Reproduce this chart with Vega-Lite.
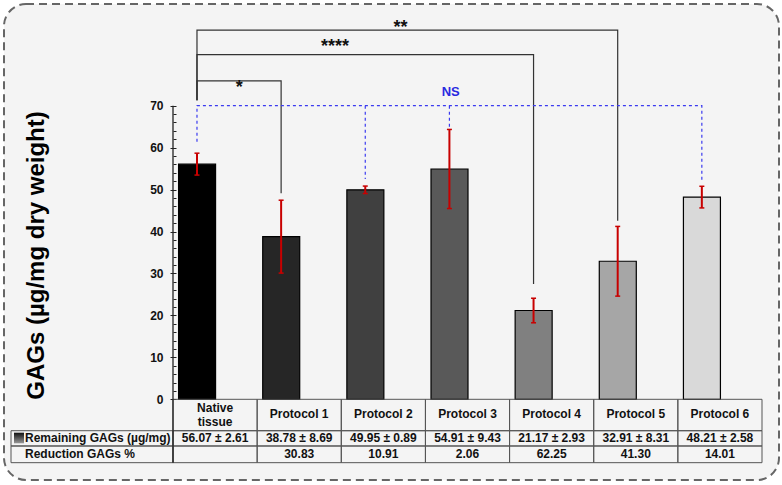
{
  "$schema": "https://vega.github.io/schema/vega-lite/v6.json",
  "width": 775,
  "height": 476,
  "autosize": {"type": "none"},
  "padding": {"left": 4, "top": 4, "right": 3, "bottom": 5},
  "background": "white",
  "config": {
    "view": {"fill": "#f4f4f4", "stroke": "#666666", "strokeWidth": 2, "strokeDash": [8, 5], "cornerRadius": 22},
    "text": {"font": "Liberation Sans", "fontWeight": "bold", "fontSize": 12, "color": "#111111"}
  },
  "datasets": {
    "groups": [
      {"group": "Native tissue", "label": "Native\ntissue", "mean": 56.07, "lo": 53.46, "hi": 58.68, "remaining": "56.07 ± 2.61", "reduction": ""},
      {"group": "Protocol 1", "label": "Protocol 1", "mean": 38.78, "lo": 30.09, "hi": 47.47, "remaining": "38.78 ± 8.69", "reduction": "30.83"},
      {"group": "Protocol 2", "label": "Protocol 2", "mean": 49.95, "lo": 49.06, "hi": 50.84, "remaining": "49.95 ± 0.89", "reduction": "10.91"},
      {"group": "Protocol 3", "label": "Protocol 3", "mean": 54.91, "lo": 45.48, "hi": 64.34, "remaining": "54.91 ± 9.43", "reduction": "2.06"},
      {"group": "Protocol 4", "label": "Protocol 4", "mean": 21.17, "lo": 18.24, "hi": 24.10, "remaining": "21.17 ± 2.93", "reduction": "62.25"},
      {"group": "Protocol 5", "label": "Protocol 5", "mean": 32.91, "lo": 24.60, "hi": 41.22, "remaining": "32.91 ± 8.31", "reduction": "41.30"},
      {"group": "Protocol 6", "label": "Protocol 6", "mean": 48.21, "lo": 45.63, "hi": 50.79, "remaining": "48.21 ± 2.58", "reduction": "14.01"}
    ],
    "brackets": [
      {"bracket": "p1", "group": "Native tissue", "y": 71.3, "k": 1},
      {"bracket": "p1", "group": "Native tissue", "y": 75.9, "k": 2},
      {"bracket": "p1", "group": "Protocol 1", "y": 75.9, "k": 3},
      {"bracket": "p1", "group": "Protocol 1", "y": 49.1, "k": 4},
      {"bracket": "p4", "group": "Native tissue", "y": 71.3, "k": 1},
      {"bracket": "p4", "group": "Native tissue", "y": 82.2, "k": 2},
      {"bracket": "p4", "group": "Protocol 4", "y": 82.2, "k": 3},
      {"bracket": "p4", "group": "Protocol 4", "y": 27.5, "k": 4},
      {"bracket": "p5", "group": "Native tissue", "y": 71.3, "k": 1},
      {"bracket": "p5", "group": "Native tissue", "y": 88.0, "k": 2},
      {"bracket": "p5", "group": "Protocol 5", "y": 88.0, "k": 3},
      {"bracket": "p5", "group": "Protocol 5", "y": 42.6, "k": 4}
    ],
    "ns": [
      {"path": "a", "group": "Native tissue", "y": 61.4, "k": 1},
      {"path": "a", "group": "Native tissue", "y": 70, "k": 2},
      {"path": "a", "group": "Protocol 6", "y": 70, "k": 3},
      {"path": "a", "group": "Protocol 6", "y": 51.9, "k": 4},
      {"path": "b", "group": "Protocol 2", "y": 70, "k": 1},
      {"path": "b", "group": "Protocol 2", "y": 52.5, "k": 2},
      {"path": "c", "group": "Protocol 3", "y": 70, "k": 1},
      {"path": "c", "group": "Protocol 3", "y": 64.3, "k": 2}
    ]
  },
  "resolve": {"axis": {"y": "independent"}},
  "layer": [
    {
      "data": {"name": "groups"},
      "mark": {"type": "bar", "width": 37, "xOffset": -18, "stroke": "#000000", "strokeWidth": 1.2},
      "encoding": {
        "x": {
          "field": "group", "type": "nominal", "axis": null,
          "scale": {
            "domain": ["Native tissue", "Protocol 1", "Protocol 2", "Protocol 3", "Protocol 4", "Protocol 5", "Protocol 6"],
            "range": [169, 758], "paddingInner": 0, "paddingOuter": 0
          }
        },
        "y": {
          "field": "mean", "type": "quantitative",
          "scale": {"domain": [-19.24, 94.25], "nice": false, "zero": false},
          "axis": {
            "orient": "left", "offset": -172, "domain": false, "grid": false,
            "values": [0, 2, 4, 6, 8, 10, 12, 14, 16, 18, 20, 22, 24, 26, 28, 30, 32, 34, 36, 38, 40, 42, 44, 46, 48, 50, 52, 54, 56, 58, 60, 62, 64, 66, 68, 70],
            "labelExpr": "datum.value % 10 === 0 ? datum.label : ''",
            "tickSize": {"condition": {"test": "datum.value % 10 === 0", "value": 6}, "value": 3},
            "tickColor": "#222222", "tickWidth": 1,
            "labelFont": "Liberation Sans", "labelFontWeight": "bold", "labelFontSize": 12, "labelColor": "#111111", "labelPadding": 7,
            "title": "GAGs (µg/mg dry weight)",
            "titleFont": "Liberation Sans", "titleFontWeight": "bold", "titleFontSize": 24, "titleColor": "#000000",
            "titleX": -140, "titleY": 251, "titleAngle": -90, "titleAlign": "center", "titleBaseline": "middle"
          }
        },
        "y2": {"datum": 0},
        "color": {
          "field": "group", "type": "nominal", "legend": null,
          "scale": {
            "domain": ["Native tissue", "Protocol 1", "Protocol 2", "Protocol 3", "Protocol 4", "Protocol 5", "Protocol 6"],
            "range": ["#000000", "#262626", "#404040", "#595959", "#808080", "#a6a6a6", "#d9d9d9"]
          }
        }
      }
    },
    {
      "data": {"name": "groups"},
      "mark": {"type": "rule", "color": "#c80000", "strokeWidth": 2},
      "encoding": {
        "x": {"field": "group", "type": "nominal", "bandPosition": 0.285},
        "y": {"field": "lo", "type": "quantitative", "axis": null},
        "y2": {"field": "hi"}
      }
    },
    {
      "data": {"name": "groups"},
      "mark": {"type": "point", "shape": "stroke", "filled": false, "color": "#c80000", "strokeWidth": 1.5, "size": 25, "opacity": 1},
      "encoding": {
        "x": {"field": "group", "type": "nominal", "bandPosition": 0.285},
        "y": {"field": "lo", "type": "quantitative", "axis": null}
      }
    },
    {
      "data": {"name": "groups"},
      "mark": {"type": "point", "shape": "stroke", "filled": false, "color": "#c80000", "strokeWidth": 1.5, "size": 25, "opacity": 1},
      "encoding": {
        "x": {"field": "group", "type": "nominal", "bandPosition": 0.285},
        "y": {"field": "hi", "type": "quantitative", "axis": null}
      }
    },
    {
      "data": {"name": "brackets"},
      "mark": {"type": "line", "color": "#333333", "strokeWidth": 1.2},
      "encoding": {
        "x": {"field": "group", "type": "nominal", "bandPosition": 0.285},
        "y": {"field": "y", "type": "quantitative", "axis": null},
        "detail": {"field": "bracket"},
        "order": {"field": "k", "type": "quantitative"}
      }
    },
    {
      "data": {"name": "ns"},
      "mark": {"type": "line", "color": "#3b3bf0", "strokeWidth": 1.2, "strokeDash": [3, 3]},
      "encoding": {
        "x": {"field": "group", "type": "nominal", "bandPosition": 0.285},
        "y": {"field": "y", "type": "quantitative", "axis": null},
        "detail": {"field": "path"},
        "order": {"field": "k", "type": "quantitative"}
      }
    },
    {
      "data": {"values": [{"t": "*"}]},
      "mark": {"type": "text", "fontSize": 18, "baseline": "alphabetic", "color": "#111111"},
      "encoding": {
        "x": {"datum": "Native tissue", "bandPosition": 0.788},
        "y": {"datum": 73.0, "axis": null},
        "text": {"field": "t"}
      }
    },
    {
      "data": {"values": [{"t": "****"}]},
      "mark": {"type": "text", "fontSize": 18, "baseline": "alphabetic", "color": "#111111"},
      "encoding": {
        "x": {"datum": "Protocol 1", "bandPosition": 0.926},
        "y": {"datum": 82.9, "axis": null},
        "text": {"field": "t"}
      }
    },
    {
      "data": {"values": [{"t": "**"}]},
      "mark": {"type": "text", "fontSize": 18, "baseline": "alphabetic", "color": "#111111"},
      "encoding": {
        "x": {"datum": "Protocol 2", "bandPosition": 0.704},
        "y": {"datum": 87.4, "axis": null},
        "text": {"field": "t"}
      }
    },
    {
      "data": {"values": [{"t": "NS"}]},
      "mark": {"type": "text", "fontSize": 13, "baseline": "middle", "color": "#2a2ae0"},
      "encoding": {
        "x": {"datum": "Protocol 3", "bandPosition": 0.3},
        "y": {"datum": 73.3, "axis": null},
        "text": {"field": "t"}
      }
    },
    {
      "data": {"name": "groups"},
      "mark": {"type": "rect", "fillOpacity": 0, "stroke": "#555555", "strokeWidth": 1},
      "encoding": {
        "x": {"field": "group", "type": "nominal"},
        "y": {"datum": 0, "axis": null},
        "y2": {"datum": -7.49}
      }
    },
    {
      "data": {"name": "groups"},
      "mark": {"type": "rect", "fillOpacity": 0, "stroke": "#555555", "strokeWidth": 1},
      "encoding": {
        "x": {"field": "group", "type": "nominal"},
        "y": {"datum": -7.49, "axis": null},
        "y2": {"datum": -11.13}
      }
    },
    {
      "data": {"name": "groups"},
      "mark": {"type": "rect", "fillOpacity": 0, "stroke": "#555555", "strokeWidth": 1},
      "encoding": {
        "x": {"field": "group", "type": "nominal"},
        "y": {"datum": -11.13, "axis": null},
        "y2": {"datum": -15.11}
      }
    },
    {
      "data": {"values": [{"top": -7.49, "bottom": -11.13}, {"top": -11.13, "bottom": -15.11}]},
      "mark": {"type": "rect", "fillOpacity": 0, "stroke": "#555555", "strokeWidth": 1, "xOffset": -162},
      "encoding": {
        "x": {"datum": "Native tissue", "bandPosition": 0},
        "x2": {"datum": "Native tissue", "bandPosition": 0},
        "y": {"field": "top", "type": "quantitative", "axis": null},
        "y2": {"field": "bottom"}
      }
    },
    {
      "data": {"values": [{}]},
      "mark": {
        "type": "rect", "xOffset": -159, "x2Offset": -149,
        "fill": {"gradient": "linear", "x1": 0, "y1": 0, "x2": 0, "y2": 1, "stops": [{"offset": 0, "color": "#111111"}, {"offset": 1, "color": "#999999"}]}
      },
      "encoding": {
        "x": {"datum": "Native tissue", "bandPosition": 0},
        "x2": {"datum": "Native tissue", "bandPosition": 0},
        "y": {"datum": -7.96, "axis": null},
        "y2": {"datum": -10.49}
      }
    },
    {
      "data": {"values": [{}]},
      "mark": {"type": "rule", "color": "#222222", "strokeWidth": 1.3},
      "encoding": {
        "x": {"datum": "Native tissue", "bandPosition": 0},
        "y": {"datum": 70, "axis": null},
        "y2": {"datum": -15.11}
      }
    },
    {
      "data": {"name": "groups"},
      "transform": [{"filter": "datum.group !== 'Native tissue'"}],
      "mark": {"type": "text", "baseline": "middle"},
      "encoding": {
        "x": {"field": "group", "type": "nominal"},
        "y": {"datum": -3.4, "axis": null},
        "text": {"field": "label"}
      }
    },
    {
      "data": {"name": "groups"},
      "transform": [{"filter": "datum.group === 'Native tissue'"}],
      "mark": {"type": "text", "baseline": "middle", "lineBreak": "\n", "lineHeight": 14},
      "encoding": {
        "x": {"field": "group", "type": "nominal"},
        "y": {"datum": -2.15, "axis": null},
        "text": {"field": "label"}
      }
    },
    {
      "data": {"name": "groups"},
      "mark": {"type": "text", "baseline": "middle"},
      "encoding": {
        "x": {"field": "group", "type": "nominal"},
        "y": {"datum": -9.31, "axis": null},
        "text": {"field": "remaining"}
      }
    },
    {
      "data": {"name": "groups"},
      "mark": {"type": "text", "baseline": "middle"},
      "encoding": {
        "x": {"field": "group", "type": "nominal"},
        "y": {"datum": -13.12, "axis": null},
        "text": {"field": "reduction"}
      }
    },
    {
      "data": {"values": [{"t": "Remaining GAGs (µg/mg)", "row": -9.31}, {"t": "Reduction GAGs %", "row": -13.12}]},
      "mark": {"type": "text", "baseline": "middle", "align": "left", "dx": -148},
      "encoding": {
        "x": {"datum": "Native tissue", "bandPosition": 0},
        "y": {"field": "row", "type": "quantitative", "axis": null},
        "text": {"field": "t"}
      }
    }
  ]
}
